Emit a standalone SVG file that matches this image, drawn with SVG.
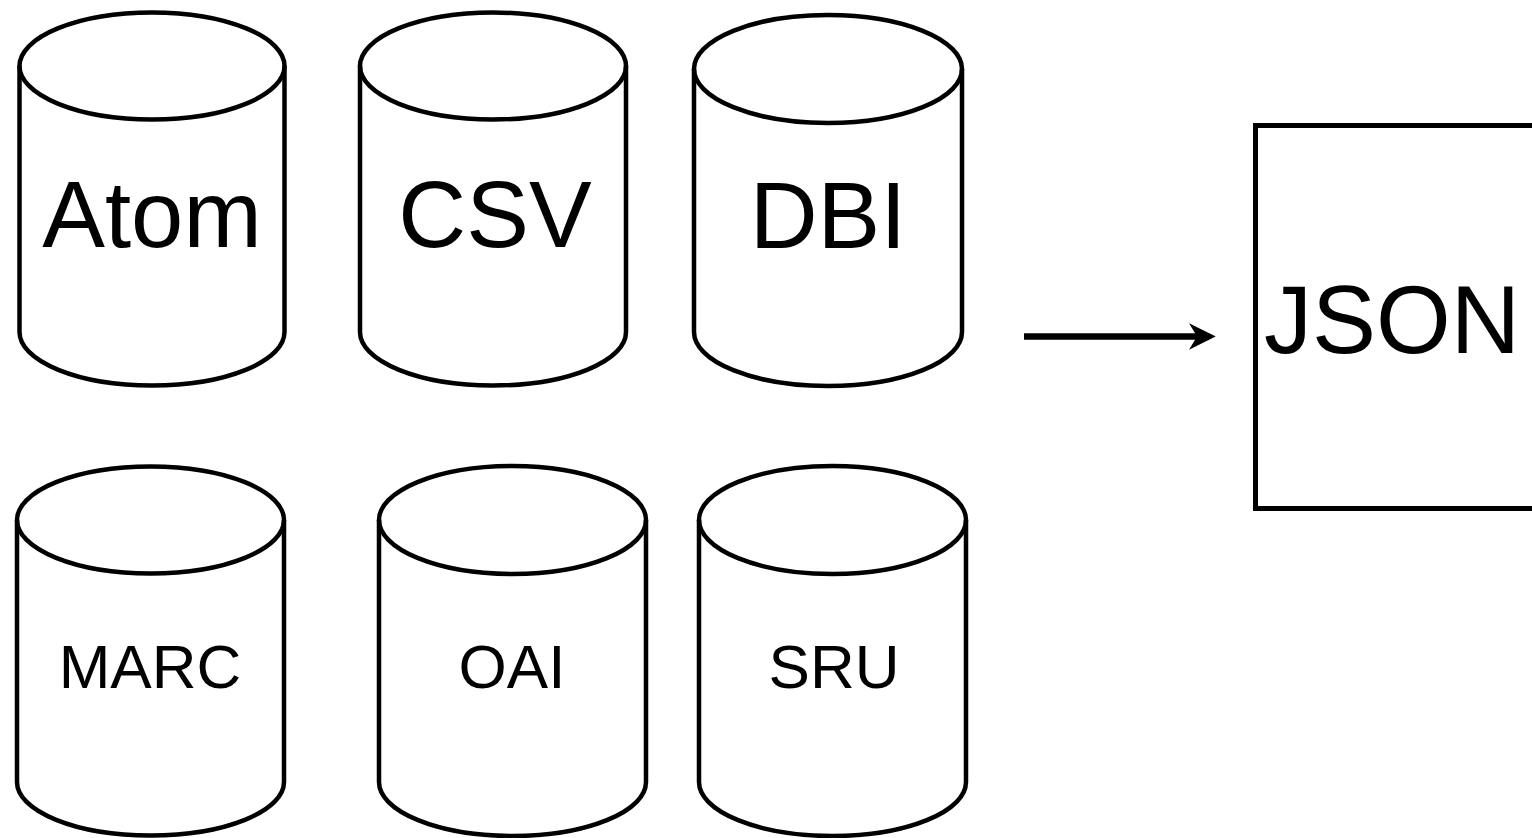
<svg xmlns="http://www.w3.org/2000/svg" width="1532" height="838" viewBox="0 0 1532 838">
<style>
.cyl{fill:#fff;stroke:#000;stroke-width:4.5;stroke-linejoin:round}
.lip{fill:none;stroke:#000;stroke-width:4.5}
.lbl{font-family:"Liberation Sans",Arial,sans-serif;fill:#000;text-anchor:middle}
.big{font-size:94px}
.small{font-size:62px}
</style>
<rect width="1532" height="838" fill="#fff"/>
<g id="atom">
<path class="cyl" d="M19.5,66 A132.5,53.5 0 0 1 284.5,66 L284.5,332 A132.5,53.5 0 0 1 19.5,332 Z"/>
<path class="lip" d="M19.5,66 A132.5,53.5 0 0 0 284.5,66"/>
<text class="lbl big" x="152" y="247">Atom</text>
</g>
<g id="csv">
<path class="cyl" d="M360,66 A133,53.5 0 0 1 626,66 L626,332 A133,53.5 0 0 1 360,332 Z"/>
<path class="lip" d="M360,66 A133,53.5 0 0 0 626,66"/>
<text class="lbl big" x="495" y="247">CSV</text>
</g>
<g id="dbi">
<path class="cyl" d="M694,69 A134,54 0 0 1 962,69 L962,332 A134,54 0 0 1 694,332 Z"/>
<path class="lip" d="M694,69 A134,54 0 0 0 962,69"/>
<text class="lbl big" x="828" y="248">DBI</text>
</g>
<g id="marc">
<path class="cyl" d="M17,520 A133.5,53.5 0 0 1 284,520 L284,782 A133.5,53.5 0 0 1 17,782 Z"/>
<path class="lip" d="M17,520 A133.5,53.5 0 0 0 284,520"/>
<text class="lbl small" x="150" y="688">MARC</text>
</g>
<g id="oai">
<path class="cyl" d="M379,520 A133.5,54 0 0 1 646,520 L646,782 A133.5,54 0 0 1 379,782 Z"/>
<path class="lip" d="M379,520 A133.5,54 0 0 0 646,520"/>
<text class="lbl small" x="512" y="688">OAI</text>
</g>
<g id="sru">
<path class="cyl" d="M699,520 A133.5,54 0 0 1 966,520 L966,782 A133.5,54 0 0 1 699,782 Z"/>
<path class="lip" d="M699,520 A133.5,54 0 0 0 966,520"/>
<text class="lbl small" x="834" y="688">SRU</text>
</g>
<g id="json">
<rect x="1255.5" y="125.5" width="290" height="383" fill="#fff" stroke="#000" stroke-width="5"/>
<text x="1264" y="353" style="font-family:'Liberation Sans',Arial,sans-serif;font-size:96px;fill:#000">JSON</text>
</g>
<g id="connectors">
<line x1="1024" y1="336.5" x2="1202" y2="336.5" stroke="#000" stroke-width="6.5"/>
<path d="M1214,336.5 L1191,325 L1198,336.5 L1191,348 Z" fill="#000" stroke="#000" stroke-width="1.5" stroke-linejoin="miter"/>
</g>
</svg>
